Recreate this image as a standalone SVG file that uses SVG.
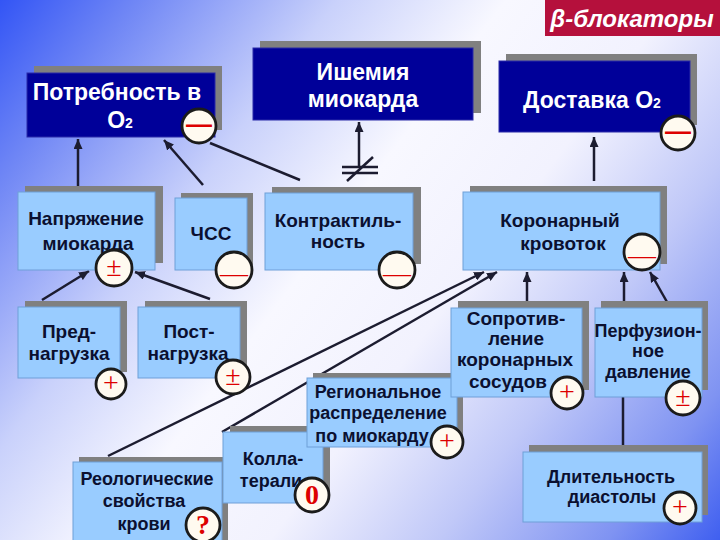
<svg xmlns="http://www.w3.org/2000/svg" width="720" height="540" viewBox="0 0 720 540">
<defs>
<linearGradient id="bg" gradientUnits="userSpaceOnUse" x1="0" y1="0" x2="720" y2="540">
<stop offset="0" stop-color="#3355f5"/>
<stop offset="0.12" stop-color="#6f86f5"/>
<stop offset="0.3" stop-color="#c9d1fb"/>
<stop offset="0.45" stop-color="#f8f8ff"/>
<stop offset="0.6" stop-color="#f2f2fe"/>
<stop offset="0.75" stop-color="#c0c8f8"/>
<stop offset="0.9" stop-color="#7f93f2"/>
<stop offset="1" stop-color="#3f5ff0"/>
</linearGradient>
<marker id="ah" markerUnits="userSpaceOnUse" markerWidth="10" markerHeight="9" refX="10" refY="4.5" orient="auto">
<path d="M0,0 L10,4.5 L0,9 z" fill="#1c1c30"/>
</marker>
<style>
.sh{fill:#808080}
.dk{fill:#000099;stroke:#2a2aa8;stroke-width:1}
.lt{fill:#99ccff;stroke:#6f9fd8;stroke-width:1}
.tw{fill:#ffffff;font-family:"Liberation Sans",Arial,sans-serif;font-weight:bold;font-size:23px;text-anchor:middle}
.tb{fill:#0b1030;font-family:"Liberation Sans",Arial,sans-serif;font-weight:bold;font-size:19px;text-anchor:middle}
.ts{font-size:18px}
.bd{fill:#fffaf0;stroke:#1b1b1b;stroke-width:2.8}
.sym{fill:#dd0000;font-family:"Liberation Serif","Times New Roman",serif;text-anchor:middle;font-size:28px}
.thk{fill:#dd0000;font-family:"Liberation Sans",Arial,sans-serif;font-weight:bold;text-anchor:middle;font-size:26px}
.ln{stroke:#1c1c30;stroke-width:2.5;fill:none}
.ar{marker-end:url(#ah)}
</style>
</defs>
<rect width="720" height="540" fill="url(#bg)"/>

<g id="title">
<rect x="545" y="0" width="175" height="36" fill="#b5103c"/>
<text x="632" y="27" fill="#ffffff" font-family="Liberation Sans, Arial, sans-serif" font-weight="bold" font-style="italic" font-size="24" text-anchor="middle">β-блокаторы</text>
</g>

<g id="connectors">
<line class="ln ar" x1="78" y1="186" x2="78" y2="139"/>
<line class="ln ar" x1="203" y1="185" x2="164" y2="140"/>
<line class="ln" x1="300" y1="180" x2="210" y2="143"/>
<line class="ln ar" x1="359" y1="166" x2="359" y2="122"/>
<line class="ln" x1="342" y1="167" x2="378" y2="167"/>
<line class="ln" x1="342" y1="173" x2="378" y2="173"/>
<line class="ln" x1="347" y1="181" x2="373" y2="157"/>
<line class="ln ar" x1="594" y1="181" x2="594" y2="137"/>
<line class="ln ar" x1="527" y1="301" x2="527" y2="272"/>
<line class="ln ar" x1="624" y1="301" x2="624" y2="272"/>
<line class="ln ar" x1="667" y1="302" x2="650" y2="272"/>
<line class="ln" x1="623" y1="397" x2="623" y2="452"/>
<line class="ln ar" x1="108" y1="456" x2="484" y2="272"/>
<line class="ln ar" x1="222" y1="432" x2="497" y2="272"/>
<line class="ln ar" x1="210" y1="299" x2="135" y2="272"/>
<line class="ln ar" x1="42" y1="300" x2="89" y2="271"/>
</g>

<g id="potrebnost">
<rect class="sh" x="34" y="66" width="188" height="64"/>
<rect class="dk" x="27" y="73" width="188" height="64"/>
<text class="tw" x="117" y="100">Потребность в</text>
<text class="tw" x="120" y="128">O<tspan font-size="14">2</tspan></text>
<circle class="bd" cx="199" cy="126" r="17"/>
<text class="thk" x="199" y="133">—</text>
</g>

<g id="ishemia">
<rect class="sh" x="260" y="41" width="221" height="72"/>
<rect class="dk" x="253" y="48" width="220" height="72"/>
<text class="tw" x="363" y="80">Ишемия</text>
<text class="tw" x="363" y="107">миокарда</text>
</g>

<g id="dostavka">
<rect class="sh" x="506" y="54" width="191" height="71"/>
<rect class="dk" x="499" y="61" width="191" height="71"/>
<text class="tw" x="592" y="108">Доставка O<tspan font-size="14">2</tspan></text>
<circle class="bd" cx="678" cy="133" r="17"/>
<text class="thk" x="678" y="140">—</text>
</g>

<g id="napryazhenie">
<rect class="sh" x="25" y="186" width="138" height="77"/>
<rect class="lt" x="18" y="192" width="137" height="78"/>
<text class="tb" x="86" y="225">Напряжение</text>
<text class="tb" x="88" y="250">миокарда</text>
<circle class="bd" cx="114" cy="268" r="18"/>
<text class="sym" x="114" y="276">±</text>
</g>

<g id="chss">
<rect class="sh" x="181" y="193" width="72" height="72"/>
<rect class="lt" x="175" y="198" width="72" height="72"/>
<text class="tb" x="211" y="240">ЧСС</text>
<circle class="bd" cx="234" cy="270" r="18"/>
<text class="sym" x="234" y="282" font-size="26">—</text>
</g>

<g id="kontraktilnost">
<rect class="sh" x="272" y="187" width="149" height="77"/>
<rect class="lt" x="265" y="193" width="148" height="77"/>
<text class="tb" x="338" y="227">Контрактиль-</text>
<text class="tb" x="338" y="248">ность</text>
<circle class="bd" cx="397" cy="270" r="18"/>
<text class="sym" x="397" y="282" font-size="26">—</text>
</g>

<g id="koronarny">
<rect class="sh" x="470" y="186" width="197" height="78"/>
<rect class="lt" x="463" y="192" width="197" height="78"/>
<text class="tb" x="560" y="227">Коронарный</text>
<text class="tb" x="563" y="250">кровоток</text>
<circle class="bd" cx="642" cy="252" r="18"/>
<text class="sym" x="642" y="264" font-size="26">—</text>
</g>

<g id="prednagruzka">
<rect class="sh" x="25" y="301" width="102" height="71"/>
<rect class="lt" x="18" y="307" width="102" height="71"/>
<text class="tb" x="69" y="338">Пред-</text>
<text class="tb" x="69" y="360">нагрузка</text>
<circle class="bd" cx="111" cy="384" r="15"/>
<text class="sym" x="111" y="392">+</text>
</g>

<g id="postnagruzka">
<rect class="sh" x="145" y="301" width="102" height="71"/>
<rect class="lt" x="138" y="307" width="102" height="71"/>
<text class="tb" x="189" y="338">Пост-</text>
<text class="tb" x="188" y="360">нагрузка</text>
<circle class="bd" cx="233" cy="377" r="17"/>
<text class="sym" x="233" y="385">±</text>
</g>

<g id="reologicheskie">
<rect class="sh" x="79" y="457" width="149" height="83"/>
<rect class="lt" x="73" y="462" width="149" height="80"/>
<text class="tb ts" x="147" y="485">Реологические</text>
<text class="tb ts" x="144" y="507">свойства</text>
<text class="tb ts" x="144" y="530">крови</text>
<circle class="bd" cx="203" cy="525" r="17"/>
<text class="sym" x="203" y="534" font-weight="bold" font-size="26">?</text>
</g>

<g id="kollaterali">
<rect class="sh" x="230" y="426" width="100" height="71"/>
<rect class="lt" x="223" y="432" width="100" height="71"/>
<text class="tb ts" x="273" y="465">Колла-</text>
<text class="tb ts" x="271" y="487">терали</text>
<circle class="bd" cx="312" cy="495" r="17"/>
<text class="sym" x="312" y="504" font-weight="bold" font-size="26">0</text>
</g>

<g id="regionalnoe">
<rect class="sh" x="313" y="373" width="150" height="69"/>
<rect class="lt" x="307" y="378" width="150" height="69"/>
<text class="tb ts" x="378" y="398">Региональное</text>
<text class="tb ts" x="378" y="419">распределение</text>
<text class="tb ts" x="372" y="442">по миокарду</text>
<circle class="bd" cx="447" cy="442" r="16"/>
<text class="sym" x="447" y="450">+</text>
</g>

<g id="soprotivlenie">
<rect class="sh" x="458" y="301" width="131" height="89"/>
<rect class="lt" x="451" y="308" width="131" height="89"/>
<text class="tb" x="516" y="325" font-size="14">Сопротив-</text>
<text class="tb" x="516" y="345" font-size="14">ление</text>
<text class="tb" x="515" y="366" font-size="17">коронарных</text>
<text class="tb" x="508" y="388" font-size="17">сосудов</text>
<circle class="bd" cx="567" cy="393" r="16"/>
<text class="sym" x="567" y="401">+</text>
</g>

<g id="perfuzionnoe">
<rect class="sh" x="601" y="301" width="107" height="89"/>
<rect class="lt" x="595" y="308" width="107" height="89"/>
<text class="tb ts" x="648" y="337">Перфузион-</text>
<text class="tb ts" x="648" y="357">ное</text>
<text class="tb ts" x="648" y="378">давление</text>
<circle class="bd" cx="683" cy="398" r="17"/>
<text class="sym" x="683" y="406">±</text>
</g>

<g id="dlitelnost">
<rect class="sh" x="529" y="445" width="179" height="70"/>
<rect class="lt" x="523" y="452" width="179" height="70"/>
<text class="tb ts" x="611" y="483">Длительность</text>
<text class="tb ts" x="612" y="503">диастолы</text>
<circle class="bd" cx="680" cy="508" r="16"/>
<text class="sym" x="680" y="516">+</text>
</g>
</svg>
